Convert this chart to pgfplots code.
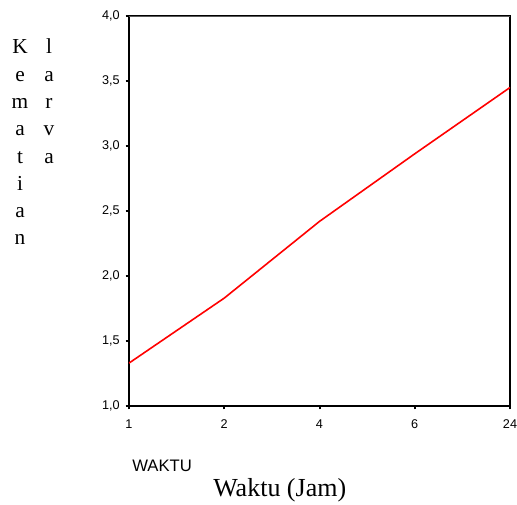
\documentclass[border=0pt]{standalone}
\usepackage{pgfplots}
\pgfplotsset{compat=1.18}
\usepackage{fontspec}
\setmainfont{Liberation Serif}
\newfontfamily\arial{Liberation Sans}
\begin{document}
\begin{tikzpicture}
\begin{axis}[
  at={(0,0)}, anchor=south west,
  scale only axis, width=285.75pt, height=292.5pt,
  xmin=0, xmax=4, ymin=1, ymax=4,
  xtick={0,1,2,3,4}, xticklabels={1,2,4,6,24},
  ytick={1,1.5,2,2.5,3,3.5,4},
  tick pos=left, tick align=outside,
  major tick length=2.5pt,
  every tick/.style={black, line width=1.5pt},
  axis line style={black, line width=1pt},
  tick label style={font=\arial\fontsize{9.5}{11}\selectfont},
  yticklabel style={xshift=-1pt},
  xticklabel style={yshift=-4.5pt},
  /pgf/number format/.cd, assume math mode=true, use comma, fixed, fixed zerofill, precision=1,
]
\addplot[red, line width=1.2pt] coordinates {
(0,1.33) (1,1.83) (2,2.42) (3,2.94) (4,3.45)
};
\draw[gray!70!black, line width=0.9pt] (rel axis cs:0,1) -- (rel axis cs:1,1);
\end{axis}
\begin{scope}[shift={(-96.75pt,304.5pt)},x=0.75pt,y=-0.75pt]
% vertical y label, two columns of letters
\foreach \c [count=\i from 0] in {K,e,m,a,t,i,a,n}
  \node[font=\fontsize{16}{18}\selectfont,inner sep=0pt] at (20,{49+27.3*\i}) {\strut\c};
\foreach \c [count=\i from 0] in {l,a,r,v,a}
  \node[font=\fontsize{16}{18}\selectfont,inner sep=0pt] at (49,{49+27.3*\i}) {\strut\c};
\node[font=\arial\fontsize{12.5}{14}\selectfont,anchor=west,inner sep=0pt] at (132,466) {WAKTU};
\node[font=\fontsize{19.5}{23}\selectfont,anchor=west,inner sep=0pt] at (213,490) {Waktu (Jam)};
\pgfresetboundingbox
\useasboundingbox (0,0) rectangle (517,504);
\end{scope}
\end{tikzpicture}
\end{document}
